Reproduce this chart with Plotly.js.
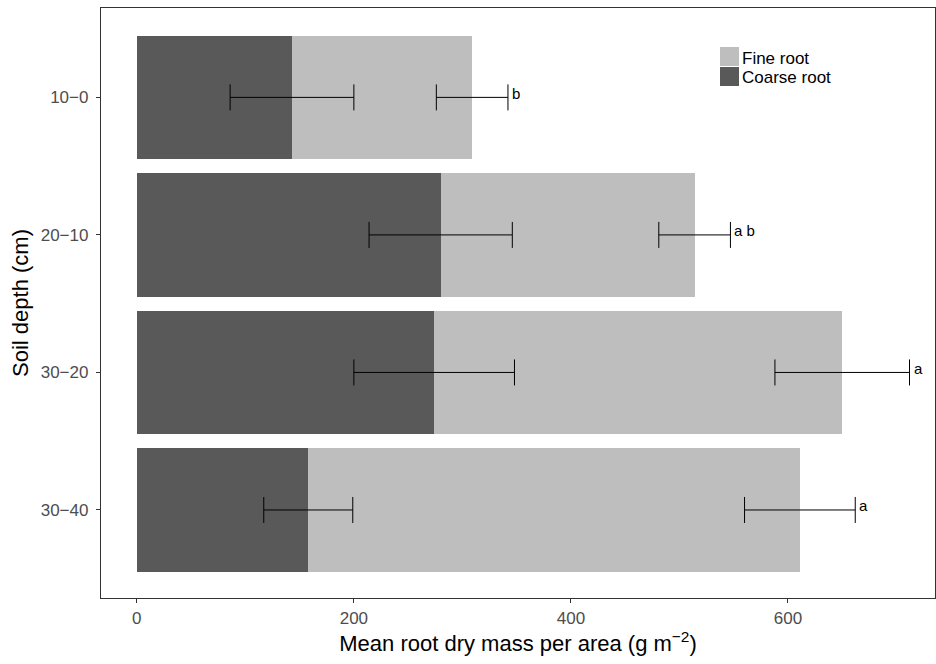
<!DOCTYPE html>
<html><head><meta charset="utf-8">
<script src="https://cdn.plot.ly/plotly-3.0.1.min.js"></script>
<style>body{margin:0;padding:0;background:#fff}#chart{width:936px;height:664px}</style>
</head><body><div id="chart"></div>
<script>
var depths = ['10\u22120', '20\u221210', '30\u221220', '30\u221240'];
var coarseMean = [143, 280, 274, 158];
var coarseSE = [57, 66, 74, 41];
var fineMean = [166, 234, 376, 453];
var fineSE = [33, 33, 62, 51];
var letters = ['b', 'a b', 'a', 'a'];
var legendNames = ['Fine root', 'Coarse root'];
var colors = {fine:'#bebebe', coarse:'#595959'};

var totals = depths.map(function(d, i){ return coarseMean[i] + fineMean[i]; });
var FONT = 'Liberation Sans, Arial, sans-serif';

var traces = [
  {type:'bar', orientation:'h', name:'Coarse root', y:depths, x:coarseMean,
   marker:{color:colors.coarse}, width:0.9, showlegend:false},
  {type:'bar', orientation:'h', name:'Fine root', y:depths, x:fineMean,
   marker:{color:colors.fine}, width:0.9, showlegend:false},
  {type:'scatter', mode:'markers', y:depths, x:coarseMean, showlegend:false,
   marker:{size:0.1, color:'rgba(0,0,0,0)'},
   error_x:{type:'data', array:coarseSE, color:'#000', thickness:1, width:13}, hoverinfo:'skip'},
  {type:'scatter', mode:'markers', y:depths, x:totals, showlegend:false,
   marker:{size:0.1, color:'rgba(0,0,0,0)'},
   error_x:{type:'data', array:fineSE, color:'#000', thickness:1, width:13}, hoverinfo:'skip'}
];

var annotations = depths.map(function(d, i){
  return {x: totals[i] + fineSE[i], y: d, text: letters[i], showarrow:false,
          xanchor:'left', yanchor:'middle', xshift:2, yshift:4,
          font:{family:FONT, size:15, color:'#000'}};
});

// legend drawn in paper coordinates (plot area: x 101..935, y 8..598)
var px = function(x){ return (x - 101) / 834; };
var py = function(y){ return 1 - (y - 8) / 590; };
var shapes = [
  {type:'rect', xref:'paper', yref:'paper', x0:px(720), x1:px(739), y0:py(66), y1:py(47),
   fillcolor:colors.fine, line:{width:0}},
  {type:'rect', xref:'paper', yref:'paper', x0:px(720), x1:px(739), y0:py(86), y1:py(67),
   fillcolor:colors.coarse, line:{width:0}}
];
annotations.push({xref:'paper', yref:'paper', x:px(740), y:py(58), text:legendNames[0], showarrow:false,
  xanchor:'left', yanchor:'middle', font:{family:FONT, size:17, color:'#000'}});
annotations.push({xref:'paper', yref:'paper', x:px(740), y:py(77), text:legendNames[1], showarrow:false,
  xanchor:'left', yanchor:'middle', font:{family:FONT, size:17, color:'#000'}});

var layout = {
  width:936, height:664,
  margin:{l:101, r:1, t:8, b:66},
  barmode:'stack',
  showlegend:false,
  paper_bgcolor:'#fff', plot_bgcolor:'#fff',
  font:{family:FONT},
  xaxis:{range:[-33, 735.5], tickvals:[0,200,400,600], ticks:'outside', ticklen:4, tickcolor:'#333',
         showgrid:false, zeroline:false, showline:true, linecolor:'#333', linewidth:1.3, mirror:true,
         tickfont:{size:17, color:'#4d4d4d'},
         title:{text:'Mean root dry mass per area (g m<sup>\u22122</sup>)', font:{size:22, color:'#000'}, standoff:4}},
  yaxis:{type:'category', categoryorder:'array', categoryarray:depths, range:[3.64, -0.65],
         ticks:'outside', ticklen:4, tickcolor:'#333', ticklabelstandoff:4,
         showgrid:false, zeroline:false, showline:true, linecolor:'#333', linewidth:1.3, mirror:true,
         tickfont:{size:17, color:'#4d4d4d'},
         title:{text:'Soil depth (cm)', font:{size:22, color:'#000'}, standoff:6}},
  shapes: shapes,
  annotations: annotations
};

Plotly.newPlot('chart', traces, layout, {displayModeBar:false});
</script></body></html>
